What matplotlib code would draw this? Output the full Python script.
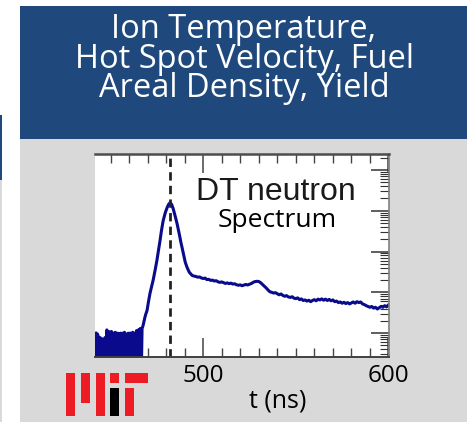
import numpy as np
import matplotlib.pyplot as plt
from matplotlib.patches import Rectangle
from matplotlib.ticker import LogLocator, NullFormatter, FixedLocator

# noisy baseline before the burn (0.5 ns samples), dips are below the axis floor
t_base = np.arange(442.0, 467.0, 0.5)
sig_base = [1.0, 0.05, 0.95, 0.05, 0.8, 0.05, 0.75, 0.05, 0.7, 0.05,
            0.78, 0.05, 1.2, 0.05, 1.1, 1.05, 0.05, 1.1, 0.05, 1.0,
            0.05, 1.05, 1.0, 0.05, 1.0, 0.05, 0.95, 1.0, 0.05, 1.0,
            0.05, 1.05, 0.05, 0.95, 0.05, 1.0, 0.05, 1.0, 1.0, 0.05,
            1.05, 0.05, 1.0, 0.05, 1.15, 0.05, 1.2, 0.05, 1.3, 0.05]

# rise, peak and fall of the DT neutron pulse
t_pulse = [467.0, 467.5, 468.0, 468.5, 469.0, 469.7, 470.5, 471.3, 472.0, 473.0,
           474.0, 475.0, 476.0, 476.7, 477.5, 478.4, 479.5, 480.5, 481.3, 482.1,
           483.0, 483.8, 484.8, 485.9, 487.0, 488.0, 488.6, 489.5, 490.3, 491.3,
           492.5, 494.0]
sig_pulse = [1.3, 1.5, 1.9, 2.4, 2.9, 3.6, 6.0, 9.5, 13, 20,
             34, 60, 115, 185, 330, 570, 880, 1180, 1420, 1570,
             1420, 1120, 760, 482, 280, 165, 125, 80, 55, 40.7,
             31, 26]

# slow tail, 1 ns samples
t_tail = np.arange(495, 601, 1)
sig_tail = [25, 24.5, 23.5, 23.8, 22.5, 21.8, 22.3, 20.5, 20.8, 19.6,
            19.9, 18.9, 19.3, 18.1, 17.5, 18.0, 17.2, 16.5, 17.0, 16.3,
            16.8, 15.9, 16.2, 15.3, 14.9, 15.2, 14.5, 15.0, 15.6, 15.1,
            15.8, 16.4, 17.6, 18.3, 18.6, 18.4, 17.2, 15.6, 14.2, 12.8,
            11.4, 10.3, 10.0, 9.6, 9.8, 9.2, 8.7, 9.1, 8.4, 8.0,
            8.3, 7.7, 7.5, 7.8, 7.2, 7.0, 7.3, 6.6, 6.9, 6.3,
            6.5, 6.1, 6.4, 5.9, 6.3, 6.6, 6.2, 6.8, 6.5, 6.9,
            6.4, 6.8, 6.3, 6.7, 6.2, 6.5, 5.9, 6.1, 5.6, 5.8,
            5.4, 5.7, 5.3, 5.6, 5.2, 5.5, 5.8, 5.4, 5.9, 5.6,
            5.8, 5.2, 5.0, 4.7, 4.5, 4.3, 4.5, 4.1, 4.3, 3.9,
            4.2, 4.5, 4.3, 4.7, 4.4, 4.9]

t_peak = 482.3
xticks = [500, 600]
xtick_labels = ["500", "600"]
header_lines = ["Ion Temperature,", "Hot Spot Velocity, Fuel", "Areal Density, Yield"]

t_all = np.concatenate([t_base, t_pulse, t_tail])
sig_all = np.concatenate([sig_base, sig_pulse, sig_tail])

W, H = 469, 422
fig = plt.figure(figsize=(W / 100, H / 100), dpi=100)
fig.patch.set_facecolor("white")


def box(x0, y0, x1, y1, color):
    # rectangle given in pixel coords from top-left
    fig.add_artist(Rectangle((x0 / W, 1 - y1 / H), (x1 - x0) / W, (y1 - y0) / H,
                             transform=fig.transFigure, facecolor=color,
                             edgecolor="none", zorder=0))


# slide background pieces
box(20, 6, 467, 139, "#1f497d")
box(20, 139, 467, 422, "#d9d9d9")
box(0, 115, 2, 180, "#1f497d")
box(0, 180, 2, 422, "#d9d9d9")

# baseline alignment of a multi-line text goes to its last line
fig.text(244 / W, 1 - 97 / H, "\n".join(header_lines), color="white",
         fontsize=23.5, family="Open Sans", ha="center", va="baseline",
         multialignment="center", linespacing=0.85)

# MIT logo
red = "#ed1c24"
box(66, 373, 75, 416, red)
box(81, 373, 90, 403, red)
box(96, 373, 105, 416, red)
box(110, 373, 119, 383, red)
box(110, 388, 119, 416, "black")
box(125, 373, 148, 383, red)
box(125, 388, 134, 416, red)

ax = fig.add_axes([95 / W, 1 - 357 / H, 294 / W, 203 / H])
ax.set_facecolor("white")
ax.plot(t_all, sig_all, color="#0a0a8c", lw=2.2)
ax.axvline(t_peak, color="#222222", lw=2.0, linestyle=(0, (3.0, 1.9)))

ax.set_yscale("log")
ax.set_ylim(0.26, 24500)
ax.set_xlim(441.6, 600.3)

ax.xaxis.set_major_locator(FixedLocator(xticks))
ax.set_xticklabels(xtick_labels, family="Open Sans", fontsize=17.5)
ax.xaxis.set_minor_locator(FixedLocator([v for v in range(450, 600, 10) if v != 500]))
ax.tick_params(axis="x", which="both", direction="in", top=True, bottom=True,
               color="#444444", pad=5)
ax.tick_params(axis="x", which="major", length=13.5, width=1.1)
ax.tick_params(axis="x", which="minor", length=6.5, width=1.0)

ax.yaxis.set_minor_locator(LogLocator(base=10, subs=range(2, 10), numticks=20))
ax.yaxis.set_minor_formatter(NullFormatter())
ax.tick_params(axis="y", which="both", direction="in", left=False, right=True,
               labelleft=False, color="#333333")
ax.tick_params(axis="y", which="major", length=13, width=1.1)
ax.tick_params(axis="y", which="minor", length=6.5, width=0.8)

ax.spines["left"].set_visible(False)
ax.spines["top"].set_color("#4d4d4d")
ax.spines["top"].set_linewidth(1.8)
ax.spines["right"].set_color("#808080")
ax.spines["right"].set_linewidth(1.2)
ax.spines["bottom"].set_color("#404040")
ax.spines["bottom"].set_linewidth(1.4)

ax.set_xlabel("t (ns)", family="Open Sans", fontsize=18)
ax.xaxis.set_label_coords(0.62, -0.155)

ax.text(0.614, 0.773, "DT neutron", transform=ax.transAxes, ha="center",
        va="baseline", fontsize=23, family="Liberation Sans", color="#1a1a1a")
ax.text(0.619, 0.640, "Spectrum", transform=ax.transAxes, ha="center",
        va="baseline", fontsize=19, family="Open Sans", color="black")

plt.savefig("out.png", dpi=100)
